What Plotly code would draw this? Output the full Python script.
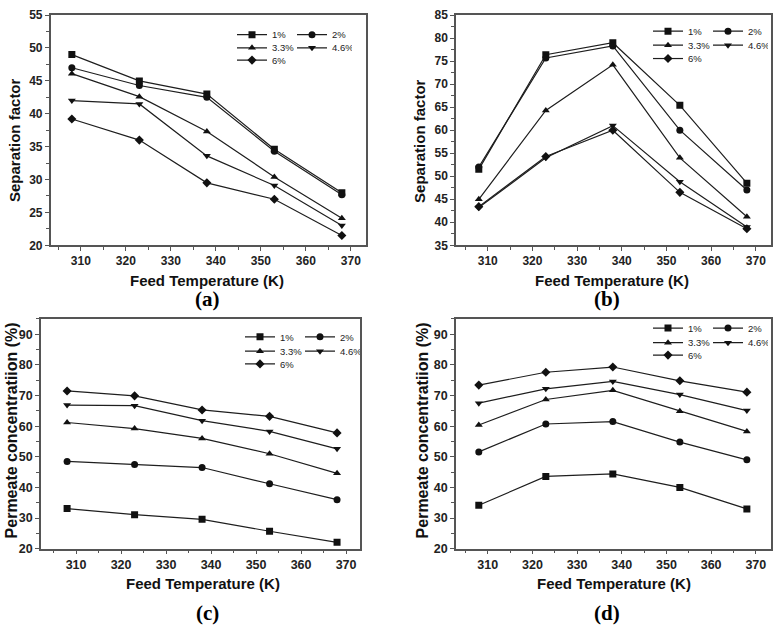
import plotly.graph_objects as go

W, H = 776, 632

# ---------------- data ----------------
temps = [308, 323, 338, 353, 368]
series_names = ["1%", "2%", "3.3%", "4.6%", "6%"]

# (a) separation factor, condition A
sep_a_1 = [49.0, 45.0, 43.0, 34.6, 28.0]
sep_a_2 = [47.0, 44.3, 42.5, 34.3, 27.7]
sep_a_33 = [46.1, 42.6, 37.3, 30.4, 24.1]
sep_a_46 = [42.0, 41.5, 33.6, 29.1, 23.0]
sep_a_6 = [39.2, 36.0, 29.5, 27.0, 21.5]

# (b) separation factor, condition B
sep_b_1 = [51.5, 76.4, 79.0, 65.4, 48.5]
sep_b_2 = [52.0, 75.7, 78.3, 60.0, 47.0]
sep_b_33 = [45.0, 64.3, 74.2, 54.0, 41.2]
sep_b_46 = [43.2, 54.0, 61.0, 48.8, 39.0]
sep_b_6 = [43.4, 54.3, 60.0, 46.5, 38.6]

# (c) permeate concentration, condition A
perm_c_1 = [33.1, 31.1, 29.6, 25.7, 22.1]
perm_c_2 = [48.5, 47.5, 46.5, 41.2, 36.0]
perm_c_33 = [61.2, 59.2, 56.0, 51.0, 44.6]
perm_c_46 = [66.9, 66.7, 61.8, 58.3, 52.6]
perm_c_6 = [71.5, 69.9, 65.3, 63.2, 57.8]

# (d) permeate concentration, condition B
perm_d_1 = [34.2, 43.6, 44.4, 40.0, 33.0]
perm_d_2 = [51.6, 60.7, 61.5, 54.8, 49.0]
perm_d_33 = [60.4, 68.7, 71.7, 64.9, 58.3]
perm_d_46 = [67.5, 72.2, 74.6, 70.3, 65.1]
perm_d_6 = [73.4, 77.6, 79.3, 74.8, 71.1]

x_tick_vals = [310, 320, 330, 340, 350, 360, 370]
x_title = "Feed Temperature (K)"
y_title_sep = "Separation factor"
y_title_perm = "Permeate concentratiion (%)"
panel_labels = ["(a)", "(b)", "(c)", "(d)"]

symbols = ["square", "circle", "triangle-up", "triangle-down", "diamond"]

panels = [
    dict(series=[sep_a_1, sep_a_2, sep_a_33, sep_a_46, sep_a_6],
         px=(50.7, 365.7), py=(8.3, 243.7), xr=[303.3, 373.3], yr=[20, 55], dy=5,
         tickfs=12, ytitle=y_title_sep, ytfs=15, ytx=15, yty=136,
         xtx=207, xty=280, lab=(207, 299),
         leg_rows=(28.3, 41.7, 54.3), leg_x=252),
    dict(series=[sep_b_1, sep_b_2, sep_b_33, sep_b_46, sep_b_6],
         px=(456, 771), py=(8.3, 243.7), xr=[302.9, 373.4], yr=[35, 85], dy=5,
         tickfs=12, ytitle=y_title_sep, ytfs=15, ytx=420, yty=137,
         xtx=612, xty=280, lab=(607, 299),
         leg_rows=(24.7, 39.0, 52.7), leg_x=668),
    dict(series=[perm_c_1, perm_c_2, perm_c_33, perm_c_46, perm_c_6],
         px=(41, 360), py=(319, 554), xr=[302.2, 373.1], yr=[20, 95], dy=10,
         tickfs=12.5, ytitle=y_title_perm, ytfs=16, ytx=11, yty=433,
         xtx=203, xty=590, lab=(207, 620),
         leg_rows=(337.3, 352.0, 365.0), leg_x=260),
    dict(series=[perm_d_1, perm_d_2, perm_d_33, perm_d_46, perm_d_6],
         px=(456, 771), py=(319, 554), xr=[302.9, 373.4], yr=[20, 95], dy=10,
         tickfs=12.5, ytitle=y_title_perm, ytfs=16, ytx=422, yty=433,
         xtx=614, xty=590, lab=(607, 620),
         leg_rows=(328.3, 343.3, 356.0), leg_x=668),
]

# legend rows: which series go on which row
row_of_series = [0, 0, 1, 1, 2]

AXC = "#555555"
LINEC = "#1e1e1e"
FONT = "Arial"

fig = go.Figure()
layout_axes = {}
legends = {}
annotations = []

for p_i, p in enumerate(panels):
    n = p_i + 1
    xa = "x" if n == 1 else f"x{n}"
    ya = "y" if n == 1 else f"y{n}"
    xkey = "xaxis" if n == 1 else f"xaxis{n}"
    ykey = "yaxis" if n == 1 else f"yaxis{n}"

    # legends (one per row)
    leg_ids = []
    for r, ry in enumerate(p["leg_rows"]):
        idx = p_i * 3 + r + 1
        lid = "legend" if idx == 1 else f"legend{idx}"
        leg_ids.append(lid)
        legends[lid] = dict(
            x=(p["leg_x"] - 20) / W, xanchor="left",
            y=1 - ry / H, yanchor="middle",
            orientation="h", entrywidth=15, entrywidthmode="pixels",
            bgcolor="rgba(0,0,0,0)", borderwidth=0,
            font=dict(family=FONT, size=9.5, color="#222222"),
            tracegroupgap=0, itemsizing="trace",
        )

    for s_i, vals in enumerate(p["series"]):
        fig.add_trace(go.Scatter(
            x=temps, y=vals, mode="lines+markers", name=series_names[s_i],
            xaxis=xa, yaxis=ya,
            line=dict(color=LINEC, width=1.2),
            marker=dict(symbol=symbols[s_i], size=7, color="#111111"),
            legend=leg_ids[row_of_series[s_i]], showlegend=True,
        ))

    common = dict(
        showline=True, linecolor=AXC, linewidth=1.5, mirror=True,
        ticks="outside", ticklen=4, tickwidth=1.2, tickcolor=AXC,
        showgrid=False, zeroline=False,
        tickfont=dict(family=FONT, size=p["tickfs"], color="#222222", weight="bold"),
    )
    layout_axes[xkey] = dict(
        common, domain=[p["px"][0] / W, p["px"][1] / W], range=p["xr"],
        tickvals=x_tick_vals, anchor=ya,
        minor=dict(ticks="outside", ticklen=3, tickwidth=1, tickcolor=AXC, dtick=5, tick0=305),
    )
    layout_axes[ykey] = dict(
        common, domain=[1 - p["py"][1] / H, 1 - p["py"][0] / H], range=p["yr"],
        dtick=p["dy"], tick0=p["yr"][0], anchor=xa,
        minor=dict(ticks="outside", ticklen=3, tickwidth=1, tickcolor=AXC, dtick=p["dy"] / 2),
    )

    annotations.append(dict(
        text=x_title, x=p["xtx"] / W, y=1 - p["xty"] / H, xref="paper", yref="paper",
        showarrow=False, xanchor="center", yanchor="middle",
        font=dict(family=FONT, size=15, color="#111111", weight="bold"),
    ))
    annotations.append(dict(
        text=p["ytitle"], x=p["ytx"] / W, y=1 - p["yty"] / H, xref="paper", yref="paper",
        showarrow=False, xanchor="center", yanchor="middle", textangle=-90,
        font=dict(family=FONT, size=p["ytfs"], color="#111111", weight="bold"),
    ))
    annotations.append(dict(
        text=panel_labels[p_i], x=p["lab"][0] / W, y=1 - p["lab"][1] / H,
        xref="paper", yref="paper", showarrow=False, xanchor="center", yanchor="middle",
        font=dict(family="Liberation Serif", size=21, color="#000000", weight="bold"),
    ))

fig.update_layout(
    width=W, height=H, margin=dict(l=0, r=0, t=0, b=0),
    paper_bgcolor="white", plot_bgcolor="white",
    annotations=annotations, **layout_axes, **legends,
)

fig.write_html(
    "out.html",
    config={"displayModeBar": False},
    post_script="document.body.style.margin='0px';document.body.style.overflow='hidden';",
)
